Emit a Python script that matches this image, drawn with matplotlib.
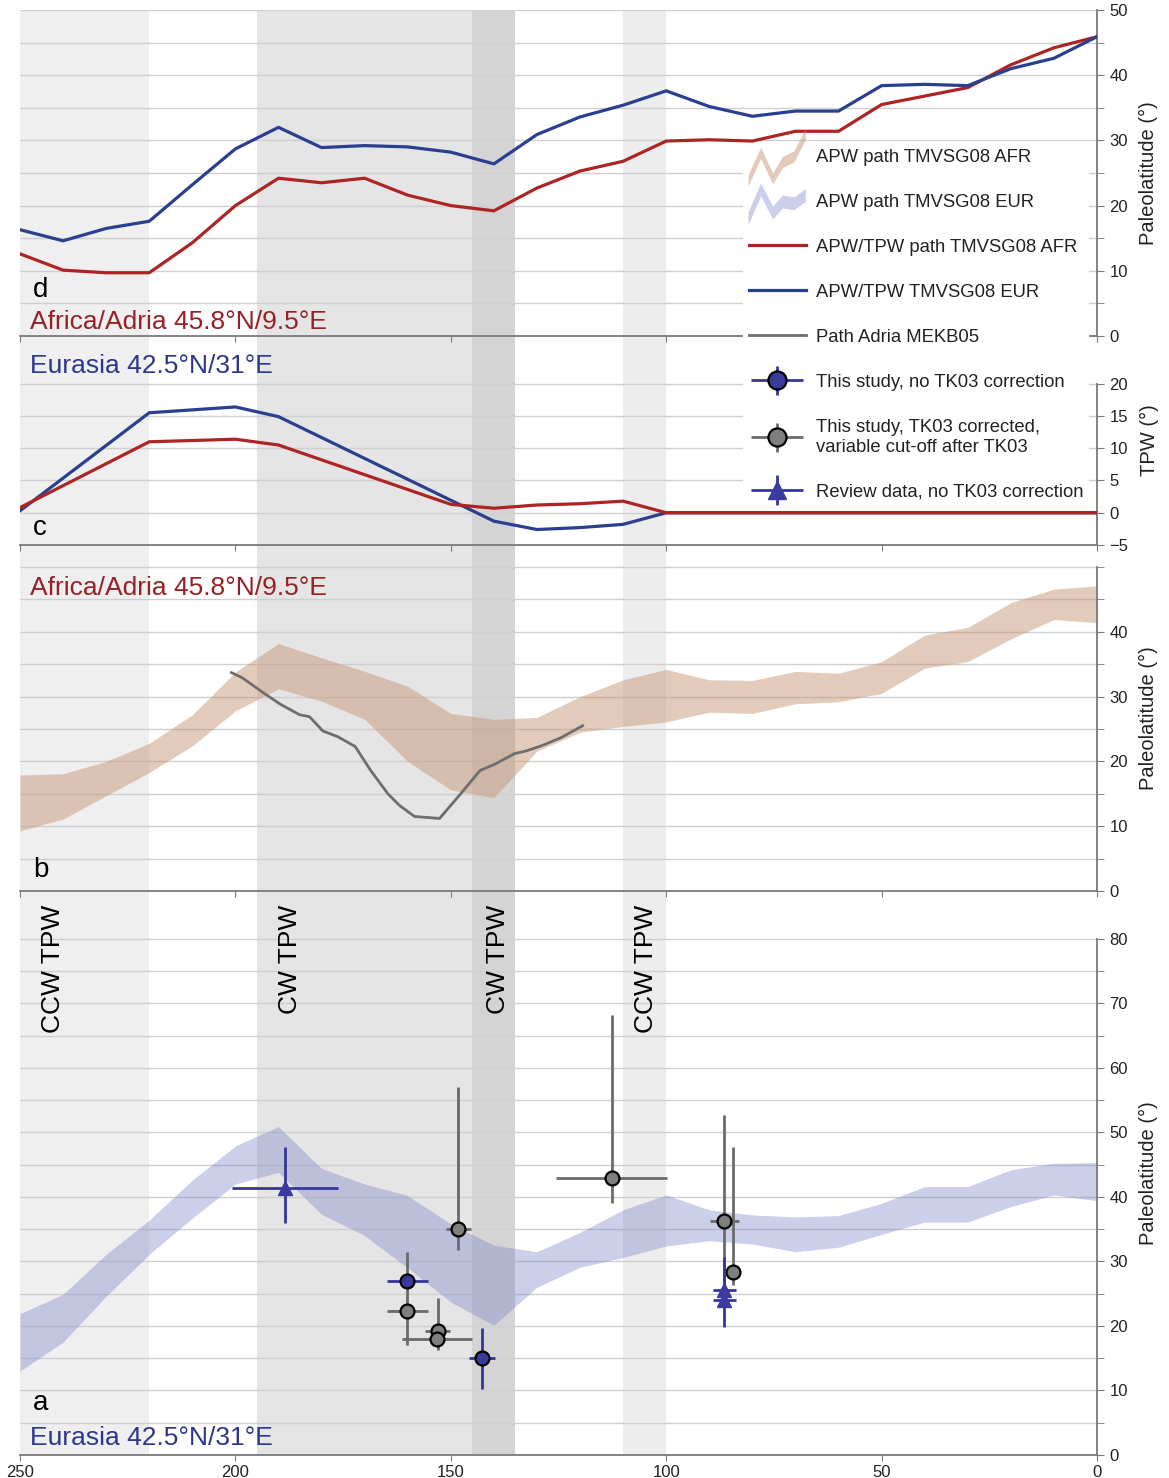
import numpy as np
import matplotlib
matplotlib.use('Agg')
import matplotlib.pyplot as plt
from matplotlib.legend_handler import HandlerBase, HandlerErrorbar
from matplotlib.patches import Polygon
from matplotlib.ticker import FixedLocator

plt.rcParams['font.family'] = ['Liberation Sans', 'DejaVu Sans']

# ages (Ma) shared by the 10 Myr paths
ages = np.arange(250, -1, -10)

# d: APW/TPW paleolatitudes
lat_afr_tpw = [12.6, 10.1, 9.7, 9.7, 14.3, 20.0, 24.2, 23.5, 24.2, 21.6, 20.0, 19.2, 22.7,
               25.3, 26.8, 29.9, 30.1, 29.9, 31.4, 31.4, 35.5, 36.8, 38.1, 41.6, 44.2, 45.9]
lat_eur_tpw = [16.3, 14.6, 16.5, 17.6, 23.2, 28.7, 32.0, 28.9, 29.2, 29.0, 28.2, 26.4, 30.9,
               33.6, 35.4, 37.6, 35.2, 33.7, 34.5, 34.5, 38.4, 38.6, 38.4, 41.0, 42.6, 45.9]

# c: TPW rotation
tpw_afr_age = [250, 220, 200, 190, 150, 140, 130, 120, 110, 100, 0]
tpw_afr = [0.8, 11.0, 11.4, 10.5, 1.3, 0.7, 1.2, 1.4, 1.8, 0.0, 0.0]
tpw_eur_age = [250, 220, 200, 190, 140, 130, 120, 110, 100, 0]
tpw_eur = [0.3, 15.5, 16.4, 14.9, -1.3, -2.6, -2.3, -1.8, 0.0, 0.0]

# b: APW path TMVSG08 AFR (envelope) and Adria path MEKB05
afr_hi = [17.9, 18.1, 20.0, 22.8, 27.2, 33.8, 38.2, 36.0, 33.9, 31.6, 27.4, 26.5, 26.8,
          30.0, 32.6, 34.2, 32.6, 32.5, 33.9, 33.6, 35.4, 39.5, 40.7, 44.5, 46.6, 47.1]
afr_lo = [9.3, 11.1, 14.7, 18.3, 22.4, 27.8, 31.2, 29.3, 26.5, 20.0, 15.6, 14.4, 21.6,
          24.5, 25.4, 26.1, 27.6, 27.4, 28.9, 29.2, 30.5, 34.4, 35.4, 38.9, 41.9, 41.4]
adria_age = [200.9, 198.4, 193.1, 189.5, 185.1, 182.8, 179.7, 176.2, 172.2, 168.6, 164.6,
             161.9, 158.4, 152.6, 148.1, 143.2, 139.7, 135.2, 132.6, 129.0, 124.6, 119.4]
adria_lat = [33.7, 32.9, 30.4, 28.8, 27.2, 26.9, 24.7, 23.8, 22.3, 18.6, 15.0,
             13.2, 11.5, 11.2, 14.7, 18.6, 19.6, 21.2, 21.6, 22.4, 23.6, 25.5]

# a: APW path TMVSG08 EUR (envelope)
eur_hi = [21.9, 24.9, 31.1, 36.4, 42.6, 47.9, 50.9, 44.4, 42.0, 40.2, 35.8, 32.5, 31.5,
          34.5, 38.0, 40.3, 38.0, 37.2, 36.9, 37.1, 39.0, 41.6, 41.6, 44.2, 45.2, 45.3]
eur_lo = [13.0, 17.5, 24.6, 31.1, 36.7, 42.0, 43.8, 37.3, 34.0, 29.0, 23.7, 20.1, 26.0,
          29.1, 30.6, 32.4, 33.2, 32.7, 31.5, 32.2, 34.2, 36.1, 36.1, 38.5, 40.3, 39.4]

# a: paleomagnetic results
study_age = [160.1, 142.8]
study_lat = [27.0, 15.0]
study_xerr = [4.8, 3.0]
study_yerr = [0.8, 4.75]

tk03_age = [160.1, 153.0, 153.2, 148.3, 112.6, 86.5, 84.6]
tk03_lat = [22.3, 19.2, 17.9, 35.0, 42.9, 36.3, 28.3]
tk03_xerr = [4.8, 2.9, 8.1, 2.9, 12.9, 3.4, 1.0]
tk03_ylo = [5.2, 3.0, 1.0, 3.2, 3.8, 10.0, 2.0]
tk03_yhi = [9.2, 5.1, 1.0, 22.0, 25.3, 16.4, 19.5]

review_age = [188.4, 86.5, 86.5]
review_lat = [41.4, 25.6, 24.0]
review_xerr = [12.3, 2.7, 2.7]
review_ylo = [5.5, 2.0, 4.1]
review_yhi = [6.4, 5.1, 2.0]

# shaded TPW intervals (start, end, shade)
tpw_bands = [(250, 220, '#efefef'), (195, 145, '#e5e5e5'), (145, 135, '#d4d4d4'),
             (110, 100, '#ededed')]
band_labels = [(242.3, 'CCW TPW'), (187.3, 'CW TPW'), (139.0, 'CW TPW'), (104.7, 'CCW TPW')]

red = '#ad2424'
blue = '#2b3f91'
red_txt = '#962126'
blue_txt = '#2d378c'
spine_c = '#7a7a7a'


class ZigzagHandler(HandlerBase):
    """Legend key drawn as a short jagged ribbon."""
    def __init__(self, xs, ys, hw):
        super().__init__()
        self.xs = np.asarray(xs)
        self.ys = np.asarray(ys)
        self.hw = hw

    def create_artists(self, legend, orig_handle, xdescent, ydescent, width, height,
                       fontsize, trans):
        x = -xdescent + self.xs * width
        yc = -ydescent + height / 2 + self.ys * fontsize
        top = np.column_stack([x, yc + self.hw * fontsize])
        bot = np.column_stack([x[::-1], (yc - self.hw * fontsize)[::-1]])
        poly = Polygon(np.vstack([top, bot]), closed=True,
                       facecolor=orig_handle.get_facecolor()[0], edgecolor='none',
                       transform=trans)
        return [poly]


fig = plt.figure(figsize=(11.69, 14.78), dpi=100)
W, H = 1169, 1478
x0, x1 = 20 / W, 1097 / W


def make_ax(top_px, bot_px, sharex=None):
    return fig.add_axes([x0, 1 - bot_px / H, x1 - x0, (bot_px - top_px) / H], sharex=sharex)


ax_a = make_ax(891, 1455)
ax_b = make_ax(545, 891, ax_a)
ax_c = make_ax(336, 545, ax_a)
ax_d = make_ax(10, 336, ax_a)

setup = [
    (ax_d, (0, 50), (0, 50), np.arange(0, 51, 10), np.arange(5, 50, 10), np.arange(5, 51, 5), 'Paleolatitude (°)'),
    (ax_c, (-5, 27.4), (-5, 20), np.arange(-5, 21, 5), [], np.arange(0, 21, 5), 'TPW (°)'),
    (ax_b, (0, 53.4), (0, 50), np.arange(0, 41, 10), np.arange(5, 51, 10).tolist() + [50], np.arange(5, 51, 5), 'Paleolatitude (°)'),
    (ax_a, (0, 87.4), (0, 80), np.arange(0, 81, 10), np.arange(5, 80, 10), np.arange(5, 81, 5), 'Paleolatitude (°)'),
]

for ax, ylim, bounds, major, minor, grid, ylabel in setup:
    ax.set_xlim(250, 0)
    ax.set_ylim(*ylim)
    ax.set_facecolor('white')
    for a0, a1, c in tpw_bands:
        ax.axvspan(a0, a1, color=c, lw=0, zorder=0)
    ax.hlines(grid, 250, 0, color='#cfcfcf', lw=1.0, zorder=0.5)
    ax.spines['left'].set_visible(False)
    ax.spines['top'].set_visible(False)
    ax.spines['right'].set_bounds(*bounds)
    for s in ('right', 'bottom'):
        ax.spines[s].set_color(spine_c)
        ax.spines[s].set_linewidth(1.3)
    ax.yaxis.tick_right()
    ax.yaxis.set_label_position('right')
    ax.yaxis.set_major_locator(FixedLocator(major))
    ax.yaxis.set_minor_locator(FixedLocator(minor))
    ax.tick_params(axis='y', which='both', direction='out', color=spine_c, labelsize=12,
                   labelcolor='#222222', pad=4, length=5)
    ax.set_ylabel(ylabel, fontsize=14.5, labelpad=8, color='#222222')
    ax.set_xticks([250, 200, 150, 100, 50, 0])
    ax.tick_params(axis='x', direction='out', length=4, color=spine_c, labelsize=12,
                   labelcolor='#222222')
    if ax is not ax_a:
        ax.tick_params(axis='x', labelbottom=False)

# d
l_afr, = ax_d.plot(ages, lat_afr_tpw, color=red, lw=2.3, zorder=3)
l_eur, = ax_d.plot(ages, lat_eur_tpw, color=blue, lw=2.3, zorder=3)
ax_d.text(247, 6.0, 'd', fontsize=20, color='black', va='baseline')
ax_d.text(247.7, 1.0, 'Africa/Adria 45.8°N/9.5°E', fontsize=19, color=red_txt, va='baseline')

# c
ax_c.plot(tpw_eur_age, tpw_eur, color=blue, lw=2.3, zorder=3)
ax_c.plot(tpw_afr_age, tpw_afr, color=red, lw=2.3, zorder=3)
ax_c.text(247.7, 21.6, 'Eurasia 42.5°N/31°E', fontsize=19, color=blue_txt, va='baseline')
ax_c.text(247, -3.5, 'c', fontsize=20, color='black', va='baseline')

# b
f_afr = ax_b.fill_between(ages, afr_lo, afr_hi, color='#c8997a', alpha=0.5, lw=0, zorder=2)
l_adria, = ax_b.plot(adria_age, adria_lat, color='#6e6e6e', lw=2.0, zorder=3)
ax_b.text(247.7, 45.7, 'Africa/Adria 45.8°N/9.5°E', fontsize=19, color=red_txt, va='baseline')
ax_b.text(247, 2.2, 'b', fontsize=20, color='black', va='baseline')

# a
f_eur = ax_a.fill_between(ages, eur_lo, eur_hi, color='#8088c8', alpha=0.4, lw=0, zorder=2)
e_grey = ax_a.errorbar(tk03_age, tk03_lat, xerr=tk03_xerr, yerr=[tk03_ylo, tk03_yhi],
                       fmt='o', ms=10, mfc='#7f7f7f', mec='black', mew=1.6,
                       ecolor='#6a6a6a', elinewidth=2.0, capsize=0, zorder=3)
e_study = ax_a.errorbar(study_age, study_lat, xerr=study_xerr, yerr=study_yerr,
                        fmt='o', ms=10, mfc='#3a3a9c', mec='black', mew=1.6,
                        ecolor='#35359a', elinewidth=2.0, capsize=0, zorder=4)
e_review = ax_a.errorbar(review_age, review_lat, xerr=review_xerr, yerr=[review_ylo, review_yhi],
                         fmt='^', ms=10, mfc='#3a3aa0', mec='#3a3aa0', mew=1,
                         ecolor='#35359a', elinewidth=2.0, capsize=0, zorder=5)
for x, s in band_labels:
    ax_a.text(x, 85.3, s, rotation=90, ha='center', va='top', fontsize=19, color='black')
ax_a.text(247, 6.9, 'a', fontsize=20, color='black', va='baseline')
ax_a.text(247.7, 1.5, 'Eurasia 42.5°N/31°E', fontsize=19, color=blue_txt, va='baseline')

handles = [f_afr, f_eur, l_afr, l_eur, l_adria, e_study, e_grey, e_review]
labels = ['APW path TMVSG08 AFR', 'APW path TMVSG08 EUR', 'APW/TPW path TMVSG08 AFR',
          'APW/TPW TMVSG08 EUR', 'Path Adria MEKB05', 'This study, no TK03 correction',
          'This study, TK03 corrected,\nvariable cut-off after TK03',
          'Review data, no TK03 correction']
zig_x = [0, 0.22, 0.43, 0.6, 0.8, 1.0]
hmap = {
    f_afr: ZigzagHandler(zig_x, [-1.4, 0.1, -1.3, -0.4, -0.1, 1.1], 0.3),
    f_eur: ZigzagHandler(zig_x, [-1.0, 0.55, -0.7, -0.1, -0.2, 0.25], 0.35),
    e_study: HandlerErrorbar(xerr_size=1.4, yerr_size=0.8, numpoints=1),
    e_grey: HandlerErrorbar(xerr_size=1.4, yerr_size=0.8, numpoints=1),
    e_review: HandlerErrorbar(xerr_size=1.4, yerr_size=0.8, numpoints=1),
}
leg = fig.legend(handles, labels, handler_map=hmap, loc='upper left',
                 bbox_to_anchor=(743 / W, 1 - 143 / H), fontsize=13.3, frameon=True,
                 facecolor='white', edgecolor='none', framealpha=1, fancybox=False,
                 borderpad=0.3, handlelength=3.1, handletextpad=0.55, labelspacing=1.52,
                 numpoints=1, markerscale=1.3, borderaxespad=0)
for t in leg.get_texts():
    t.set_color('#222222')

fig.savefig('out.png', dpi=100)
